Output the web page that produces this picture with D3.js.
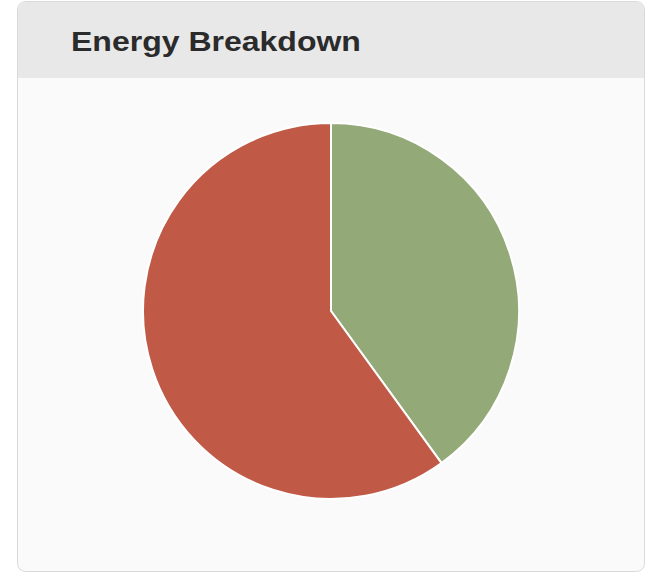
<!DOCTYPE html>
<html>
<head>
<meta charset="utf-8">
<script src="https://cdnjs.cloudflare.com/ajax/libs/d3/7.8.5/d3.min.js"></script>
<style>
  body { margin: 0; background: #ffffff; font-family: "Liberation Sans", Arial, sans-serif; }
</style>
</head>
<body>
<svg id="chart" width="664" height="578"></svg>
<script>
// pie data
const labels = ['Renewable', 'Non-renewable'];
const values = [40, 60];
const sliceColors = ['#94a978', '#c05946'];

const svg = d3.select('#chart');

// panel
svg.append('rect')
  .attr('x', 17.5).attr('y', 1.5)
  .attr('width', 627).attr('height', 570)
  .attr('rx', 8)
  .attr('fill', '#fafafa')
  .attr('stroke', '#d9d9d9');

// header
const clip = svg.append('clipPath').attr('id', 'hdr');
clip.append('rect').attr('x', 18).attr('y', 2).attr('width', 626).attr('height', 76).attr('rx', 8);
svg.append('rect')
  .attr('x', 18).attr('y', 2).attr('width', 626).attr('height', 76)
  .attr('clip-path', 'url(#hdr)')
  .attr('fill', '#e8e8e8');
svg.append('rect')
  .attr('x', 18).attr('y', 60).attr('width', 626).attr('height', 18)
  .attr('fill', '#e8e8e8');

// title, stretched a bit wider like the screenshot
const title = svg.append('text')
  .attr('transform', 'translate(71,51) scale(1.12,1)')
  .attr('font-size', 28)
  .attr('font-weight', 'bold')
  .attr('fill', '#2b2b2b')
  .text('Energy Breakdown');
const tw = title.node().getComputedTextLength();
title.attr('transform', `translate(71,51) scale(${290 / tw},1)`);

// pie
const cx = 331, cy = 311, r = 188;
const pie = d3.pie().sort(null).value(d => d);
const arc = d3.arc().innerRadius(0).outerRadius(r);

const g = svg.append('g').attr('transform', `translate(${cx},${cy})`);
g.selectAll('path')
  .data(pie(values))
  .enter()
  .append('path')
  .attr('d', arc)
  .attr('fill', (d, i) => sliceColors[i])
  .attr('stroke', '#ffffff')
  .attr('stroke-width', 2);
</script>
</body>
</html>
